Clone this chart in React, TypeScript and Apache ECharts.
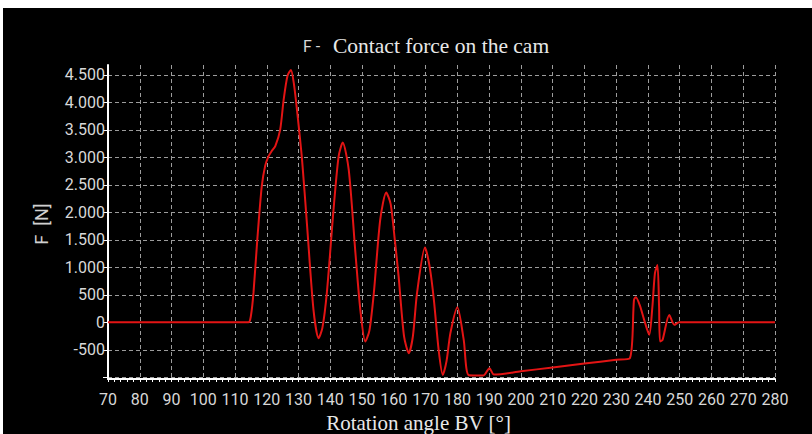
import React, { useEffect, useRef } from "react";
import * as echarts from "echarts";

const titleMain = "Contact force on the cam";
const titlePrefix = "F -";
const xAxisName = "Rotation angle BV [°]";
const yAxisName = "F  [N]";

const angles = [
  70, 114.2, 115.0, 115.8, 117.0, 118.4, 119.5, 120.5, 121.6, 122.7, 124.2, 125.3, 126.5, 127.6,
  128.5, 129.5, 131.1, 132.7, 134.7, 136.3, 137.5, 138.9, 141.0, 142.6, 143.9, 145.8, 147.9,
  149.5, 151.0, 152.3, 153.7, 155.7, 157.6, 159.0, 160.3, 161.5, 163.2, 164.7, 166.0, 167.3, 169.8,
  171.3, 172.6, 174.1, 175.4, 176.6, 177.8, 180.0, 182.0, 183.6, 188.2, 190.1, 191.5, 200, 210,
  220, 230, 234.3, 235.6, 236.2, 237.5, 238.8, 240.4, 241.4, 242.2, 243.0, 243.5, 243.8, 244.6,
  246.7, 248.3, 249.8, 280,
];

const force = [
  0, 0, 120, 535, 1500, 2470, 2850, 3015, 3120, 3210, 3500, 4045, 4480, 4590,
  4350, 3864, 2955, 1742, 227, -288, -100, 536, 2045, 3015, 3270, 2773, 1262,
  200, -348, -150, 536, 1864, 2360, 2150, 1500, 833, -250, -561, -250, 536, 1360,
  1000, 409, -500, -955, -700, -196, 276, -318, -960, -965, -833, -950, -890, -820,
  -750, -680, -652, 409, 458, 300, 45, -227, 288, 894, 1045, 288, -348, -318,
  136, -45, 0, 0,
];

const xMin = 70;
const xMax = 280;
const xStep = 10;
const yMin = -1030;
const yMax = 4680;
const yStep = 500;
const yLowestLabel = -500;

function fmtThousands(v: number): string {
  const s = Math.abs(Math.round(v)).toString().replace(/\B(?=(\d{3})+(?!\d))/g, ".");
  return (v < 0 ? "-" : "") + s;
}

export default function App() {
  const ref = useRef<HTMLDivElement>(null);

  useEffect(() => {
    if (!ref.current) return;
    const chart = echarts.init(ref.current, undefined, { renderer: "svg" });
    const gridLine = { show: true, lineStyle: { color: "#9c9c9c", width: 1, type: [4, 3] as any } };
    const labelFont = { color: "#d8d8d8", fontFamily: "Roboto, 'Liberation Sans', sans-serif", fontSize: 16 };
    chart.setOption({
      animation: false,
      backgroundColor: "#000000",
      title: {
        text: `{a|${titlePrefix}}{b|${titleMain}}`,
        left: 300,
        top: 27,
        padding: 0,
        textStyle: {
          fontWeight: "normal",
          rich: {
            a: { color: "#d8d8d8", fontFamily: "Roboto, sans-serif", fontSize: 16, fontWeight: "normal", width: 30 },
            b: { color: "#e8e8e8", fontFamily: "'Liberation Serif', serif", fontSize: 21.5, fontWeight: "normal" },
          },
        },
      },
      grid: { left: 105, right: 37, top: 57, bottom: 55, containLabel: false, outerBoundsMode: "none" },
      xAxis: {
        type: "value",
        min: xMin,
        max: xMax,
        interval: xStep,
        name: xAxisName,
        nameLocation: "middle",
        nameGap: 33,
        nameTextStyle: {
          color: "#e8e8e8",
          fontFamily: "'Liberation Serif', serif",
          fontSize: 21,
          padding: [0, 46, 0, 0],
        },
        axisLine: { show: true, onZero: false, lineStyle: { color: "#ffffff", width: 2 } },
        axisTick: { show: true, length: 3, lineStyle: { color: "#ffffff", width: 1 } },
        minorTick: { show: true, splitNumber: 5, length: 3, lineStyle: { color: "#ffffff", width: 1 } },
        axisLabel: { ...labelFont, margin: 12 },
        splitLine: gridLine,
      },
      yAxis: {
        type: "value",
        min: yMin,
        max: yMax,
        splitNumber: 11,
        minInterval: yStep,
        maxInterval: yStep,
        name: yAxisName,
        nameLocation: "middle",
        nameGap: 58,
        nameRotate: 90,
        nameTextStyle: {
          color: "#d0d0d0",
          fontFamily: "Roboto, sans-serif",
          fontSize: 18,
          padding: [0, 4, 0, 0],
        },
        axisLine: { show: true, onZero: false, lineStyle: { color: "#ffffff", width: 2 } },
        axisTick: { show: true, length: 5, lineStyle: { color: "#ffffff", width: 1 } },
        axisLabel: {
          ...labelFont,
          margin: 3,
          showMinLabel: false,
          showMaxLabel: false,
          formatter: (v: number) => (v < yLowestLabel ? "" : fmtThousands(v)),
        },
        splitLine: { ...gridLine, showMinLine: false, showMaxLine: false },
      },
      series: [
        {
          type: "line",
          data: angles.map((a, i) => [a, force[i]]),
          showSymbol: false,
          smooth: 0.25,
          lineStyle: { color: "#e31414", width: 2 },
          clip: true,
        },
      ],
    });
    return () => chart.dispose();
  }, []);

  return (
    <div
      ref={ref}
      style={{ position: "fixed", left: 3, top: 8, width: 809, height: 426, background: "#000" }}
    />
  );
}
